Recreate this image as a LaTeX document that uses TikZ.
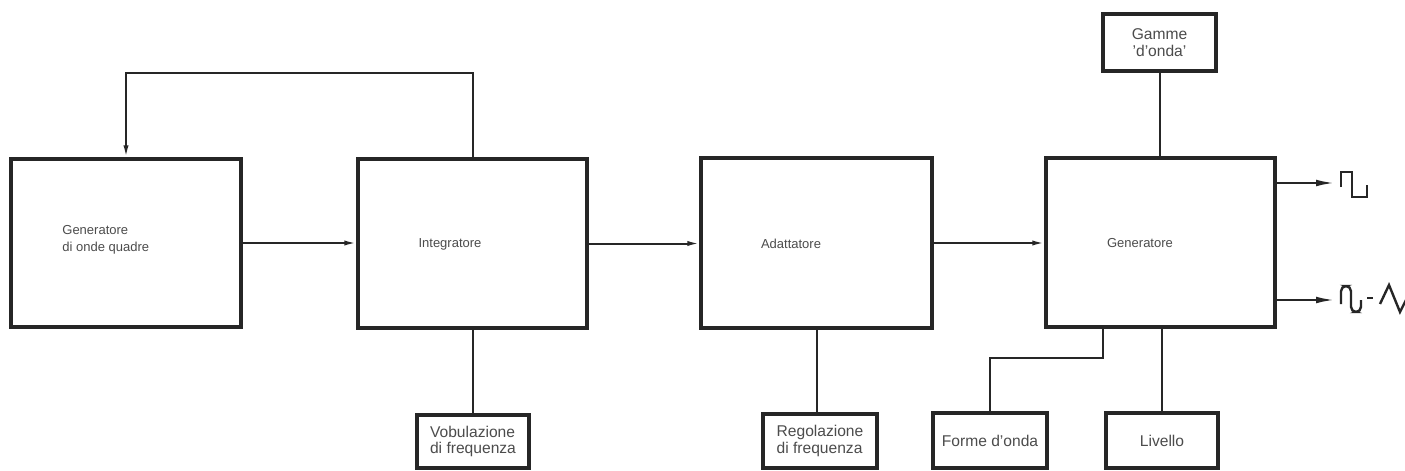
\documentclass[tikz,border=0pt]{standalone}
\usepackage{fontspec}
\setmainfont{Liberation Sans}
\usetikzlibrary{arrows.meta,calc}
\begin{document}
\begin{tikzpicture}[x=0.5pt,y=-0.5pt,
  box/.style={draw=black!85, line width=1.6pt, inner sep=0pt, align=left},
  conn/.style={draw=black!85, line width=1pt},
  arr/.style={-{Latex[length=6pt,width=2.6pt]}},
  oarr/.style={-{Latex[length=9pt,width=3.4pt]}},
  txt/.style={text=black!70, inner sep=0pt, font=\fontsize{6.5}{8.5}\selectfont},
  stxt/.style={text=black!70, font=\fontsize{7.8}{8.2}\selectfont},
  wave/.style={draw=black!85, line width=1.2pt, line join=miter}]
\useasboundingbox (0,0) rectangle (1405,471);
\fill[white] (0,0) rectangle (1405,471);
% main boxes
\node[box, minimum width=115pt, minimum height=84pt] (B1) at (126,243) {};
\node[box, minimum width=114.5pt, minimum height=84.5pt] (B2) at (472.5,243.5) {};
\node[box, minimum width=115.5pt, minimum height=85pt] (B3) at (816.5,243) {};
\node[box, minimum width=114.5pt, minimum height=84.5pt] (B4) at (1160.5,242.5) {};
% texts of main boxes
\node[txt, anchor=west, align=left] (T1) at (62,240) {Generatore\\di onde quadre};
\node[txt] (T2) at (450,244) {Integratore};
\node[txt] (T3) at (791,244) {Adattatore};
\node[txt] (T4) at (1140,243) {Generatore};
% small boxes
\node[box, stxt, align=center, minimum width=56.5pt, minimum height=28.5pt] (Gam) at (1159.5,42.5) {Gamme\\'d'onda'};
\node[box, stxt, minimum width=56pt, minimum height=26.5pt] (Vob) at (473,441.5) {Vobulazione\\di frequenza};
\node[box, stxt, minimum width=57pt, minimum height=27pt] (Reg) at (820,441) {Regolazione\\di frequenza};
\node[box, stxt, minimum width=57pt, minimum height=27.5pt] (For) at (990,440.5) {Forme d'onda};
\node[box, stxt, minimum width=56pt, minimum height=27.5pt] (Liv) at (1162,440.5) {Livello};
% connectors
\coordinate (fb) at (126,73);
\draw[conn,arr] (B2.north) |- (fb) -- (B1.north);
\draw[conn,arr] (B1.east) -- (B1.east -| B2.west);
\draw[conn,arr] (B2.east) -- (B2.east -| B3.west);
\draw[conn,arr] (B3.east) -- (B3.east -| B4.west);
\coordinate (o1) at (1334,183);
\coordinate (o2) at (1334,300);
\draw[conn,oarr] (B4.east |- o1) -- (o1);
\draw[conn,oarr] (B4.east |- o2) -- (o2);
\draw[conn] (Gam.south) -- (Gam.south |- B4.north);
\draw[conn] (B2.south) -- (B2.south |- Vob.north);
\draw[conn] (B3.south) -- (B3.south |- Reg.north);
\coordinate (fo) at (1103,358);
\draw[conn] (For.north) |- (fo) -- (fo |- B4.south);
\draw[conn] (Liv.north) -- (Liv.north |- B4.south);
% waveforms
\draw[wave] (1341,187) -- (1341,172) -- (1352,172) -- (1352,197) -- (1367,197) -- (1367,185);
\draw[wave, rounded corners=2.6pt] (1341,304) -- (1341,286) -- (1351,286) -- (1351,312) -- (1361,312) -- (1361,300);
\draw[wave] (1367,298) -- (1373,298);
\draw[wave] (1380,304) -- (1389,285) -- (1400,312) -- (1408,296);
\end{tikzpicture}
\end{document}
